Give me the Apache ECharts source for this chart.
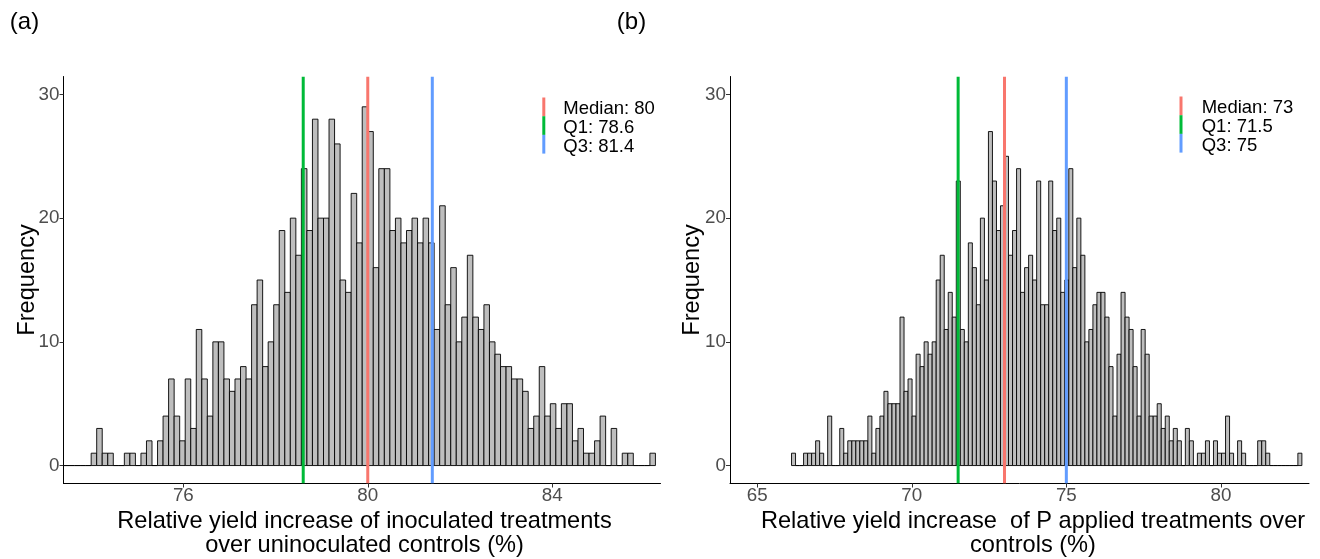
<!DOCTYPE html>
<html>
<head>
<meta charset="utf-8">
<script src="https://cdn.jsdelivr.net/npm/echarts@6/dist/echarts.min.js"></script>
<style>
  html, body { margin: 0; padding: 0; background: #ffffff; }
  #chart { width: 1320px; height: 559px; }
</style>
</head>
<body>
<div id="chart"></div>
<script>
// ---- (a) inoculated vs uninoculated: histogram bins ----
const inocBinStart = 73.4;
const inocBinWidth = 0.12;
const inocCounts = [
  0, 0, 0, 0, 0,
  1, 3, 1, 1, 0, 0, 1, 1, 0, 1, 2, 0, 2, 4, 7, 4, 2, 7, 3, 11, 7, 4, 10, 10, 7, 6, 7, 8, 7, 13, 15,
  8, 10, 13, 19, 14, 20, 17, 24, 19, 28, 20, 20, 28, 26, 15, 14, 22, 18, 29, 27, 16, 24, 24, 19, 20,
  18, 19, 20, 18, 20, 18, 11, 21,
  13, 16, 10, 12, 17, 12, 11, 13, 10, 9, 8, 8, 7, 7, 6, 3, 4, 8, 4, 5, 3, 5, 5, 2, 3, 1, 1, 2, 4,
  0, 3, 0, 1, 1, 0, 0, 0, 1
];
const inocStats = [80, 78.6, 81.4];          // median, Q1, Q3
const inocTicksX = [76, 80, 84];

// ---- (b) P applied vs controls: histogram bins ----
const pBinStart = 66.11;
const pBinWidth = 0.13;
const pCounts = [
  1, 0, 0, 1, 1, 1, 2, 1, 0, 4, 0, 0, 3, 1, 2, 2, 2, 2, 2, 4, 1, 3, 4, 6, 5, 5, 5, 12, 6, 7, 4, 9,
  8, 10, 9, 10, 15, 17, 11, 14,
  12, 23, 11, 10, 18, 16, 13, 20, 15, 27, 23, 19, 21, 25, 17, 19, 24, 14, 16, 17, 15, 23, 13, 13,
  23, 19, 20, 14, 15, 24, 16, 20, 17, 10, 11, 13, 14, 14, 12, 8, 4, 9, 14, 12,
  11, 8, 4, 11, 9, 4, 4, 5, 3, 4, 2, 3, 2, 0, 3, 2, 0, 1, 1, 2, 0, 2, 1, 1, 4, 1, 0, 2, 1, 0, 0, 0,
  2, 2, 1, 0, 0, 0, 0, 0, 0, 0, 1
];
const pStats = [73, 71.5, 75];               // median, Q1, Q3
const pTicksX = [65, 70, 75, 80];

// ---- shared ----
const statNames = ['Median', 'Q1', 'Q3'];
const statColors = ['#F8766D', '#00BA38', '#619CFF'];
const ticksY = [0, 10, 20, 30];

const FONT = '"Liberation Sans", Arial, sans-serif';

function toBins(start, width, counts) {
  return counts.map((c, i) => [start + i * width, start + (i + 1) * width, c]);
}

function renderBin(params, api) {
  const top = api.coord([api.value(0), api.value(2)]);
  const base = api.coord([api.value(1), 0]);
  return {
    type: 'rect',
    shape: { x: top[0], y: top[1], width: base[0] - top[0], height: base[1] - top[1] },
    style: { fill: '#BEBEBE', stroke: '#000000', lineWidth: 0.9 }
  };
}

function renderVline(params, api) {
  const cs = params.coordSys;
  const px = api.coord([api.value(0), 0])[0];
  return {
    type: 'line',
    shape: { x1: px, y1: cs.y, x2: px, y2: cs.y + cs.height },
    style: { stroke: statColors[api.value(1)], lineWidth: 3 }
  };
}

function xAxisFor(gridIndex, min, max, ticks) {
  return {
    type: 'value', gridIndex, min, max,
    splitLine: { show: false },
    axisLine: { show: true, onZero: false, lineStyle: { color: '#000000', width: 1 } },
    axisTick: { show: true, length: 4, lineStyle: { color: '#333333' }, customValues: ticks },
    axisLabel: { customValues: ticks, color: '#4D4D4D', fontSize: 18.8, fontFamily: FONT, margin: 3 }
  };
}

function yAxisFor(gridIndex) {
  return {
    type: 'value', gridIndex, min: -1.45, max: 31.45,
    splitLine: { show: false },
    axisLine: { show: true, onZero: false, lineStyle: { color: '#000000', width: 1 } },
    axisTick: { show: true, length: 4, lineStyle: { color: '#333333' }, customValues: ticksY },
    axisLabel: { customValues: ticksY, color: '#4D4D4D', fontSize: 18.8, fontFamily: FONT, margin: 4 }
  };
}

function legendFor(barX, textX, top, stats) {
  const out = [];
  const keyH = 18.7;
  stats.forEach((v, i) => {
    out.push({
      type: 'rect',
      shape: { x: barX, y: top + i * keyH, width: 3, height: keyH },
      style: { fill: statColors[i] }
    });
    out.push({
      type: 'text', x: textX, y: top + 11.3 + i * 19.1,
      style: {
        text: statNames[i] + ': ' + v, font: '18.5px ' + FONT, fill: '#000000',
        textAlign: 'left', textVerticalAlign: 'middle', align: 'left', verticalAlign: 'middle'
      }
    });
  });
  return out;
}

function label(text, x, y, size, extra) {
  return Object.assign({
    type: 'text', x, y,
    style: {
      text, font: size + 'px ' + FONT, fill: '#000000',
      textAlign: 'center', textVerticalAlign: 'middle', align: 'center', verticalAlign: 'middle',
      lineHeight: 24.5
    }
  }, extra || {});
}

const chart = echarts.init(document.getElementById('chart'), null, { renderer: 'canvas' });

chart.setOption({
  animation: false,
  backgroundColor: '#ffffff',
  grid: [
    { left: 63.5, top: 76.5, width: 597, height: 407 },
    { left: 730, top: 76.5, width: 579, height: 407 }
  ],
  xAxis: [
    xAxisFor(0, 73.4, 86.35, inocTicksX),
    xAxisFor(1, 64.12, 82.85, pTicksX)
  ],
  yAxis: [yAxisFor(0), yAxisFor(1)],
  series: [
    {
      type: 'custom', xAxisIndex: 0, yAxisIndex: 0, clip: true, z: 2,
      encode: { x: [0, 1], y: 2 },
      data: toBins(inocBinStart, inocBinWidth, inocCounts),
      renderItem: renderBin
    },
    {
      type: 'custom', xAxisIndex: 0, yAxisIndex: 0, clip: true, z: 3,
      encode: { x: 0 },
      data: inocStats.map((v, i) => [v, i]),
      renderItem: renderVline
    },
    {
      type: 'custom', xAxisIndex: 1, yAxisIndex: 1, clip: true, z: 2,
      encode: { x: [0, 1], y: 2 },
      data: toBins(pBinStart, pBinWidth, pCounts),
      renderItem: renderBin
    },
    {
      type: 'custom', xAxisIndex: 1, yAxisIndex: 1, clip: true, z: 3,
      encode: { x: 0 },
      data: pStats.map((v, i) => [v, i]),
      renderItem: renderVline
    }
  ],
  graphic: [
    label('(a)', 24.5, 22, 24),
    label('(b)', 631.5, 22, 24),
    label('Frequency', 27, 280, 23.6, { rotation: Math.PI / 2 }),
    label('Frequency', 692, 280, 23.6, { rotation: Math.PI / 2 }),
    label('Relative yield increase of inoculated treatments\nover uninoculated controls (%)', 364.5, 533.5, 23.6),
    label('Relative yield increase  of P applied treatments over\ncontrols (%)', 1033, 533.5, 23.6)
  ].concat(legendFor(542.3, 563.3, 97.5, inocStats), legendFor(1179.5, 1201.7, 96.5, pStats))
});
</script>
</body>
</html>
